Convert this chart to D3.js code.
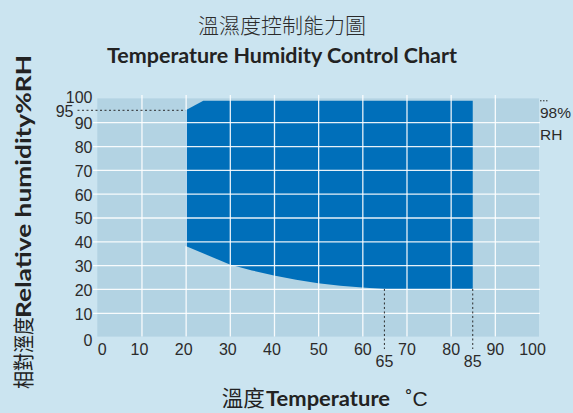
<!DOCTYPE html>
<html><head><meta charset="utf-8">
<script src="https://cdn.jsdelivr.net/npm/d3@7"></script>
<style>
html,body{margin:0;padding:0;background:#cbe4f0;}
svg{display:block;}
</style></head>
<body>
<svg id="c" width="573" height="413"></svg>
<script>
// ---- data ----
const titleZh = "溫濕度控制能力圖";
const titleEn = "Temperature Humidity Control Chart";
const xTitle = ["溫度","Temperature","˚C"];
const yTitle = ["相對溼度","Relative humidity%RH"];
const xTicks = [0,10,20,30,40,50,60,70,80,90,100];
const yTicks = [0,10,20,30,40,50,60,70,80,90,100];
const gridX = [10,20,30,40,50,60,70,80,90];
const gridY = [10,20,30,40,50,60,70,80,90];
// control area boundary: [temperature, humidity]
const areaTop = [[20,95],[24,99],[85,99]];
const areaBottom = [[85,20],[65,20],[60,20.6],[55,21.3],[50,22.4],[45,23.9],[40,25.6],[35,27.8],[30,30.3],[20,38]];
const markX = [65,85];   // dashed markers on x
const markY = 95;        // dashed marker on y
const markXLow = 20;     // humidity where x markers start
const rhLabel = ["98%","RH"];

const svg = d3.select("#c");
const x = d3.scaleLinear().domain([0,100]).range([97.3,539]);
const y = d3.scaleLinear().domain([0,100]).range([336.6,98.4]);
const txt = "#2b2b2b";
const sans = "'Liberation Sans',Arial,sans-serif";
const cjk = "'Noto Sans CJK TC','Noto Sans CJK SC',sans-serif";
const hum = "Lato,'Open Sans',sans-serif";

// plot background
svg.append("rect").attr("x",x(0)).attr("y",y(100)).attr("width",x(100)-x(0)).attr("height",y(0)-y(100)).attr("fill","#b3d3e3");

// area polygon
const poly = areaTop.concat(areaBottom);
svg.append("path").attr("d", d3.line().x(d=>x(d[0])).y(d=>y(d[1])).curve(d3.curveLinear)(poly)+"Z").attr("fill","#006fba");

// grid
const gx = svg.append("g").attr("transform",`translate(0,${y(0)})`)
  .call(d3.axisBottom(x).tickValues(gridX).tickSize(-(y(0)-y(100)+3.5)).tickFormat(""));
gx.select(".domain").remove();
gx.selectAll("line").attr("stroke","#ffffff").attr("stroke-width",1.3).attr("opacity",0.9);
const gy = svg.append("g").attr("transform",`translate(93,0)`)
  .call(d3.axisLeft(y).tickValues(gridY).tickSize(-(x(100)+1-93)).tickFormat(""));
gy.select(".domain").remove();
gy.selectAll("line").attr("stroke","#ffffff").attr("stroke-width",1.3).attr("opacity",0.9);

// axis labels
const ax = svg.append("g").attr("transform",`translate(0,${y(0)})`)
  .call(d3.axisBottom(x).tickValues(xTicks).tickSize(0).tickPadding(7.5));
ax.select(".domain").remove();
ax.selectAll("text").attr("font-family",sans).attr("font-size",16).attr("fill",txt);
ax.selectAll("text").filter(d=>d===0).attr("dx",4.5);
ax.selectAll("text").filter(d=>d===100).attr("dx",-7);
ax.selectAll("text").filter(d=>d>0 && d<50).attr("dx",-2.5);

const ay = svg.append("g").attr("transform",`translate(92.5,0)`)
  .call(d3.axisLeft(y).tickValues(yTicks).tickSize(0).tickPadding(0));
ay.select(".domain").remove();
ay.selectAll("text").attr("font-family",sans).attr("font-size",16).attr("fill",txt).attr("dy","0.4em");
ay.selectAll("text").filter(d=>d===0).attr("dy","0.55em");
ay.selectAll("text").filter(d=>d===100).attr("dy","0.25em");

// dashed markers
const dash = "2,2.5";
svg.append("line").attr("x1",77.5).attr("x2",x(20)).attr("y1",y(markY)).attr("y2",y(markY))
  .attr("stroke",txt).attr("stroke-width",1).attr("stroke-dasharray",dash);
svg.append("text").attr("x",73.5).attr("y",y(markY)).attr("dy","0.4em").attr("text-anchor","end")
  .attr("font-family",sans).attr("font-size",16).attr("fill",txt).text(markY);
markX.forEach(v=>{
  svg.append("line").attr("x1",x(v)).attr("x2",x(v)).attr("y1",y(markXLow)).attr("y2",349)
    .attr("stroke",txt).attr("stroke-width",1).attr("stroke-dasharray",dash);
  svg.append("text").attr("x",x(v)).attr("y",367).attr("text-anchor","middle")
    .attr("font-family",sans).attr("font-size",16).attr("fill",txt).text(v);
});
svg.append("line").attr("x1",540).attr("x2",548).attr("y1",y(99)).attr("y2",y(99))
  .attr("stroke",txt).attr("stroke-width",1).attr("stroke-dasharray","1.5,1.5");
svg.append("text").attr("x",540).attr("y",117.5).attr("font-family",sans).attr("font-size",15.5).attr("fill",txt).text(rhLabel[0]);
svg.append("text").attr("x",540).attr("y",140).attr("font-family",sans).attr("font-size",15.5).attr("fill",txt).text(rhLabel[1]);

// titles
svg.append("text").attr("x",282).attr("y",32.5).attr("text-anchor","middle")
  .attr("font-family",cjk).attr("font-size",21).attr("font-weight",300).attr("fill",txt).text(titleZh);
svg.append("text").attr("x",107).attr("y",63.3)
  .attr("textLength",350).attr("lengthAdjust","spacingAndGlyphs")
  .attr("font-family",hum).attr("font-size",21.2).attr("font-weight",700).attr("fill","#222").text(titleEn);

// x title
svg.append("text").attr("x",221.7).attr("y",406).attr("textLength",43).attr("lengthAdjust","spacingAndGlyphs")
  .attr("font-family",cjk).attr("font-weight",400).attr("font-size",21.5).attr("fill","#222").text(xTitle[0]);
svg.append("text").attr("x",266).attr("y",405.5).attr("textLength",124).attr("lengthAdjust","spacingAndGlyphs")
  .attr("font-family",hum).attr("font-weight",700).attr("font-size",21.5).attr("fill","#222").text(xTitle[1]);
svg.append("text").attr("x",405.5).attr("y",405.5)
  .attr("font-family",sans).attr("font-weight",400).attr("font-size",21).attr("fill","#222").text(xTitle[2]);

// y title
svg.append("text").attr("transform","translate(30.5,389) rotate(-90)").attr("x",0).attr("y",0)
  .attr("textLength",72).attr("lengthAdjust","spacingAndGlyphs")
  .attr("font-family",cjk).attr("font-weight",400).attr("font-size",21).attr("fill","#222").text(yTitle[0]);
svg.append("text").attr("transform","translate(31,318) rotate(-90)").attr("x",0).attr("y",0)
  .attr("textLength",263).attr("lengthAdjust","spacingAndGlyphs")
  .attr("font-family",hum).attr("font-weight",700).attr("font-size",21.5).attr("fill","#222").text(yTitle[1]);
</script>
</body></html>
